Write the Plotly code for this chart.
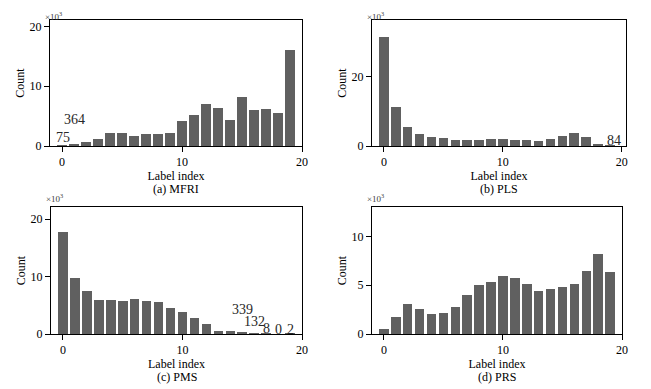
import plotly.graph_objects as go

label_index = list(range(20))

mfri_counts = [75, 364, 670, 1220, 2170, 2170, 1670, 2060, 2000, 2170,
               4170, 5170, 7110, 6330, 4330, 8280, 6000, 6220, 5500, 16000]
pls_counts = [31400, 11200, 5450, 3540, 2680, 2300, 1820, 1630, 1720, 1910,
              1910, 1720, 1630, 1530, 1910, 2870, 3640, 2490, 480, 84]
pms_counts = [17800, 9770, 7500, 5930, 5930, 5810, 6100, 5810, 5580, 4590,
              3780, 2790, 1800, 580, 470, 339, 132, 8, 0, 2]
prs_counts = [550, 1760, 3030, 2520, 2000, 2100, 2720, 3970, 5030, 5280,
              5900, 5720, 5140, 4410, 4590, 4790, 5100, 6410, 8240, 6340]

captions = ["(a) MFRI", "(b) PLS", "(c) PMS", "(d) PRS"]
y_tick_vals = [[0, 10000, 20000], [0, 20000], [0, 10000, 20000], [0, 5000, 10000]]
y_tick_text = [["0", "10", "20"], ["0", "20"], ["0", "10", "20"], ["0", "5", "10"]]
y_max = [21100, 36200, 22100, 13000]
x_max = [20.0, 20.35, 20.0, 20.0]

# labels for small bars: (panel, x, y, text)
small_labels = [
    (0, 0.08, 1500, "75"), (0, 1.05, 4360, "364"),
    (1, 19.36, 1700, "84"),
    (2, 15.06, 4260, "339"), (2, 16.02, 2100, "132"), (2, 17.07, 940, "8"),
    (2, 18.05, 820, "0"), (2, 19.02, 820, "2"),
]

OFF = 8  # page body margin
W, H = 651 - OFF, 389 - OFF
# plot-area boxes in window pixels: (left, right, top, bottom)
boxes = [(50, 302, 20, 146), (372, 626, 20, 146), (51, 302, 207, 334), (372, 622, 207, 334)]

FONT = "Liberation Serif, Times New Roman, serif"
BAR = "rgb(96,96,96)"

fig = go.Figure()
all_counts = [mfri_counts, pls_counts, pms_counts, prs_counts]
for i, counts in enumerate(all_counts):
    sfx = "" if i == 0 else str(i + 1)
    fig.add_trace(go.Bar(x=label_index, y=counts, width=0.8,
                         marker=dict(color=BAR, line=dict(width=0)),
                         xaxis="x" + sfx, yaxis="y" + sfx, showlegend=False))
    l, r, t, b = [v - OFF for v in boxes[i]]
    axis_common = dict(showline=True, linecolor="black", linewidth=1, mirror=True,
                       ticks="outside", ticklen=5, tickwidth=1, tickcolor="black",
                       showgrid=False, zeroline=False, automargin=False,
                       tickfont=dict(family=FONT, size=12, color="black"))
    fig.layout["xaxis" + sfx] = dict(
        domain=[l / W, r / W], anchor="y" + sfx, range=[-1, x_max[i]],
        tickvals=[0, 10, 20], ticktext=["0", "10", "20"],
        title=dict(text="Label index", font=dict(family=FONT, size=12, color="black"), standoff=0),
        **axis_common)
    fig.layout["yaxis" + sfx] = dict(
        domain=[1 - b / H, 1 - t / H], anchor="x" + sfx, range=[0, y_max[i]],
        tickvals=y_tick_vals[i], ticktext=y_tick_text[i],
        title=dict(text="Count", font=dict(family=FONT, size=12, color="black"), standoff=2),
        **axis_common)
    # caption
    fig.add_annotation(text=captions[i], xref="paper", yref="paper",
                       x=(l + r) / 2 / W, y=1 - (b + 43) / H, showarrow=False,
                       xanchor="center", yanchor="middle",
                       font=dict(family=FONT, size=12, color="black"))
    # multiplier
    if t - 12 < 6:
        m_y, m_anchor = 1.0, "top"
    else:
        m_y, m_anchor = 1 - (t - 9) / H, "middle"
    fig.add_annotation(text="×10<sup>3</sup>", xref="paper", yref="paper",
                       x=(l - 7) / W, y=m_y, showarrow=False,
                       xanchor="left", yanchor=m_anchor,
                       font=dict(family=FONT, size=9, color="rgb(60,60,60)"))

for p, x, y, txt in small_labels:
    sfx = "" if p == 0 else str(p + 1)
    fig.add_annotation(text=txt, x=x, y=y, xref="x" + sfx, yref="y" + sfx,
                       showarrow=False, font=dict(family=FONT, size=14, color="rgb(40,40,40)"))

fig.update_layout(width=W, height=H, margin=dict(l=0, r=0, t=0, b=0),
                  paper_bgcolor="white", plot_bgcolor="white", bargap=0)
fig.write_html("out.html")
